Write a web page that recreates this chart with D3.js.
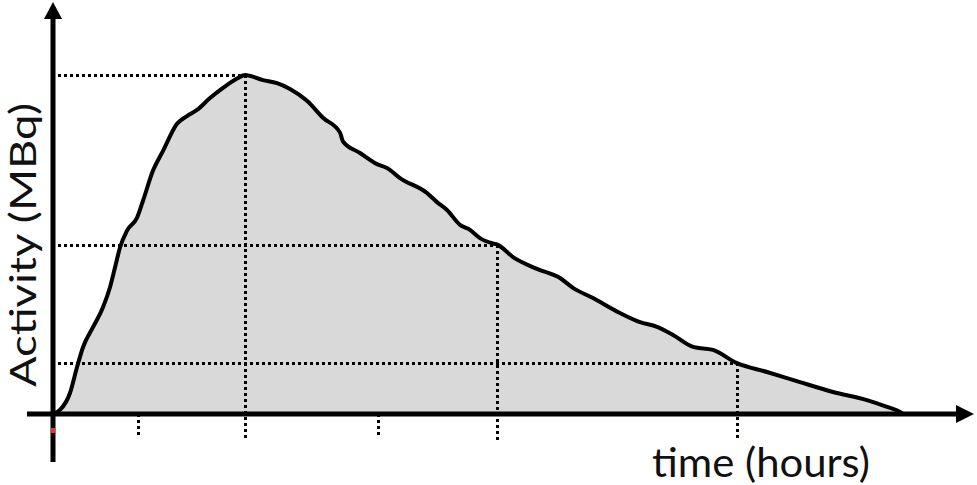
<!DOCTYPE html>
<html>
<head>
<meta charset="utf-8">
<script src="https://d3js.org/d3.v7.min.js"></script>
<style>
  html, body { margin: 0; padding: 0; background: #fff; }
  svg { display: block; }
</style>
</head>
<body>
<div id="chart"></div>
<script>
// activity curve, time in hours, activity in % of peak
var hours = [0, 0.07, 0.17, 0.24, 0.30, 0.40, 0.50, 0.57, 0.62, 0.67, 0.74, 0.84, 0.90, 1.00, 1.10,
    1.24, 1.34, 1.44, 1.57, 1.70, 1.85, 1.92, 2.10, 2.24, 2.37, 2.54, 2.70, 2.87, 2.90, 3.07,
    3.24, 3.34, 3.47, 3.74, 3.84, 3.94, 4.07, 4.17, 4.27, 4.40, 4.44, 4.60, 4.84, 5.07, 5.20,
    5.40, 5.67, 5.87, 6.04, 6.20, 6.40, 6.60, 6.84, 7.14, 7.47, 7.80, 8.14, 8.34, 8.47, 8.50];
var activity = [0, 1.2, 6.2, 13.8, 19.7, 25.6, 31.5, 37.4, 43.2, 49.1, 54.1, 57.9, 62.9, 71.8, 77.6,
    85.6, 87.9, 89.7, 93.2, 96.2, 99.1, 100, 98.5, 97.6, 95.9, 92.4, 87.4, 83.0, 80.4, 77.0,
    73.7, 72.6, 69.6, 65.2, 62.5, 60.2, 55.8, 54.3, 51.9, 50.3, 50, 46.3, 42.8, 40.1, 37.2,
    34.2, 29.8, 27.1, 25.7, 23.3, 19.8, 18.9, 15, 12.4, 9.4, 6.5, 4.1, 2.1, 0.6, 0];

// guide points (peak, half, 15%) and extra ticks
var guideHours = [1.92, 4.44, 6.84];
var guideLevels = [100, 50, 15];
var tickHours = [0.85, 3.25];

var xLabel = "time (hours)";
var yLabel = "Activity (MBq)";

var width = 977, height = 485;

var svg = d3.select("#chart").append("svg")
    .attr("width", width)
    .attr("height", height);

var x = d3.scaleLinear().domain([0, 9.2]).range([53, 973]);
var y = d3.scaleLinear().domain([0, 100]).range([414, 75]);

var data = hours.map(function (h, i) {
    return {t: h, a: activity[i]};
});

var area = d3.area()
    .x(function (d) { return x(d.t); })
    .y0(y(0))
    .y1(function (d) { return y(d.a); })
    .curve(d3.curveMonotoneX);

var line = d3.line()
    .x(function (d) { return x(d.t); })
    .y(function (d) { return y(d.a); })
    .curve(d3.curveMonotoneX);

svg.append("path")
    .datum(data)
    .attr("d", area)
    .style("fill", "#d9d9d9");

// dotted guides, snapped to pixel centres so the dots stay crisp
function px(v) { return Math.round(v) + 0.5; }

var dots = svg.append("g")
    .style("stroke", "#000")
    .style("stroke-width", 3)
    .style("stroke-dasharray", "3,3")
    .style("shape-rendering", "crispEdges");

guideHours.forEach(function (h, i) {
    dots.append("line")
        .attr("x1", x(0) + 5).attr("x2", px(x(h)))
        .attr("y1", px(y(guideLevels[i]))).attr("y2", px(y(guideLevels[i])));
    dots.append("line")
        .attr("x1", px(x(h))).attr("x2", px(x(h)))
        .attr("y1", y(guideLevels[i])).attr("y2", 441);
});
tickHours.forEach(function (h) {
    dots.append("line")
        .attr("x1", px(x(h))).attr("x2", px(x(h)))
        .attr("y1", y(0)).attr("y2", 438);
});

svg.append("path")
    .datum(data)
    .attr("d", line)
    .style("fill", "none")
    .style("stroke", "#000")
    .style("stroke-width", 4)
    .style("stroke-linejoin", "round");

// axes with arrow heads
var x0 = x(0), y0 = y(0);
svg.append("line")
    .attr("x1", 27).attr("x2", 960)
    .attr("y1", y0).attr("y2", y0)
    .style("stroke", "#000")
    .style("stroke-width", 5);
svg.append("path")
    .attr("d", "M" + 956 + "," + (y0 - 9) + "L" + 974 + "," + y0 + "L" + 956 + "," + (y0 + 9) + "Z")
    .style("fill", "#000");

svg.append("line")
    .attr("x1", x0).attr("x2", x0)
    .attr("y1", 462).attr("y2", 15)
    .style("stroke", "#000")
    .style("stroke-width", 5);
svg.append("path")
    .attr("d", "M" + (x0 - 9) + ",19L" + x0 + ",2L" + (x0 + 9) + ",19Z")
    .style("fill", "#000");

svg.append("rect")
    .attr("x", x0 - 2).attr("y", 428)
    .attr("width", 4).attr("height", 5)
    .style("fill", "#e8322e");

// labels
svg.append("text")
    .attr("x", 652)
    .attr("y", 477)
    .attr("textLength", 218)
    .attr("lengthAdjust", "spacingAndGlyphs")
    .style("font-family", "Lato, 'Open Sans', sans-serif")
    .style("font-size", "40px")
    .style("fill", "#111")
    .text(xLabel);

svg.append("text")
    .attr("transform", "translate(36,245) rotate(-90)")
    .attr("text-anchor", "middle")
    .attr("textLength", 284)
    .attr("lengthAdjust", "spacingAndGlyphs")
    .style("font-family", "Lato, 'Open Sans', sans-serif")
    .style("font-size", "37px")
    .style("fill", "#111")
    .text(yLabel);
</script>
</body>
</html>
